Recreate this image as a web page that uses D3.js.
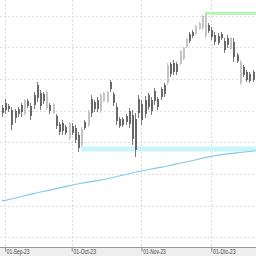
<!DOCTYPE html>
<html>
<head>
<meta charset="utf-8">
<script src="https://cdn.jsdelivr.net/npm/d3@7/dist/d3.min.js"></script>
<style>
body { margin: 0; background: #fff; }
svg { display: block; }
</style>
</head>
<body>
<script>
// daily candles, one per weekday from 31-Aug-23
var highs = [141.8, 143.6, 142.1, 141.2, 140.5, 141.2, 142.4, 143.7, 143.8, 142.4,
  145.9, 149.1, 146.5, 146.0, 146.5, 142.4, 142.3, 138.9, 136.5, 137.0,
  135.5, 136.5, 136.0, 135.5, 133.4, 134.9, 137.0, 140.2, 144.9, 143.4,
  144.3, 145.6, 145.9, 146.2, 149.7, 146.0, 142.4, 138.1, 138.0, 138.9,
  140.8, 140.2, 139.3, 144.9, 143.4, 144.6, 145.6, 144.4, 147.2, 144.4,
  147.5, 148.7, 155.1, 155.4, 156.0, 155.4, 159.2, 160.1, 163.0, 164.8,
  165.5, 167.1, 168.1, 170.2, 170.75, 167.7, 166.4, 164.8, 164.5, 164.8,
  163.0, 163.9, 163.3, 163.0, 158.2, 156.0, 154.4, 152.8, 152.2, 152.8, 151.3]
var lows = [138.1, 138.9, 139.7, 133.9, 136.0, 138.0, 138.1, 138.6, 141.0, 137.0,
  140.5, 142.6, 140.2, 142.1, 140.2, 138.9, 138.9, 134.2, 132.3, 132.3,
  132.3, 130.7, 132.3, 129.7, 126.9, 128.6, 133.9, 134.9, 138.1, 139.7,
  139.6, 139.3, 142.7, 142.4, 146.0, 141.5, 135.5, 134.5, 134.8, 135.5,
  134.5, 129.2, 125.3, 137.7, 135.5, 137.7, 140.2, 138.6, 141.8, 140.2,
  143.4, 144.3, 148.1, 150.6, 151.3, 151.3, 154.4, 156.0, 159.8, 161.4,
  163.0, 163.9, 165.5, 165.5, 163.0, 164.5, 162.3, 160.7, 160.7, 162.3,
  158.2, 159.8, 159.2, 155.4, 155.0, 148.1, 150.6, 149.0, 148.7, 149.0, 148.7]
var opens = [140.8, 142.5, 141.5, 140.3, 139.8, 140.6, 141.8, 139.0, 143.2, 141.5,
  145.0, 148.0, 145.5, 145.2, 140.8, 141.7, 139.2, 138.2, 135.8, 136.0,
  134.9, 131.3, 135.2, 134.5, 132.4, 129.2, 136.4, 135.4, 143.6, 142.6,
  143.4, 139.9, 143.0, 142.8, 149.0, 145.2, 141.2, 137.4, 137.3, 138.2,
  139.8, 138.6, 137.5, 143.8, 142.2, 143.5, 144.8, 143.5, 146.3, 143.7,
  146.8, 148.0, 148.7, 154.6, 155.2, 154.7, 154.8, 156.3, 160.1, 164.1,
  165.0, 164.2, 165.8, 166.0, 163.5, 167.0, 165.6, 164.0, 163.7, 164.2,
  162.1, 163.1, 159.6, 161.8, 157.6, 148.6, 153.7, 152.1, 151.5, 152.1, 150.8]
var closes = [139.2, 140.3, 140.4, 135.5, 137.6, 139.0, 139.6, 143.3, 141.6, 138.3,
  141.8, 144.0, 141.6, 143.0, 146.0, 139.8, 142.0, 135.3, 133.2, 133.5,
  133.0, 136.0, 133.1, 130.8, 128.3, 134.3, 134.6, 139.7, 139.4, 140.5,
  140.6, 145.0, 145.6, 145.8, 146.8, 142.5, 136.8, 135.3, 135.5, 136.3,
  135.8, 131.0, 127.5, 139.2, 137.0, 139.0, 141.3, 139.8, 142.9, 141.1,
  144.3, 145.2, 154.5, 151.6, 152.3, 152.2, 158.8, 159.8, 162.7, 162.1,
  163.6, 166.8, 167.8, 169.8, 170.3, 165.2, 163.2, 161.6, 161.5, 162.8,
  159.2, 160.6, 162.9, 156.8, 155.6, 155.5, 151.4, 149.8, 149.4, 149.7, 149.3]

// moving average, read every 5th bar
var maIdx = [0, 5, 10, 15, 20, 25, 30, 35, 40, 45, 50, 55, 60, 65, 70, 75, 80]
var maVals = [111.5, 112.6, 113.8, 114.9, 116.0, 117.05, 117.9, 118.9, 120.05,
  121.2, 122.1, 123.2, 124.2, 125.4, 126.2, 126.8, 127.35]

var tickLabels = ['01-Sep-23', '01-Oct-23', '01-Nov-23', '01-Dic-23']
var gridVals = [100, 110, 120, 130, 140, 150, 160, 170]

var resistance = 170.75, resistanceFrom = 64
var support = 127.9, supportFrom = 25

var W = 256, H = 256, plotH = 247

var days = d3.timeDay.range(new Date(2023, 7, 31), new Date(2023, 11, 22))
  .filter(function(d){ return d.getDay() % 6 != 0 })

var monthStarts = d3.range(1, days.length).filter(function(i){
  return days[i].getMonth() != days[i - 1].getMonth()
})

var x = d3.scaleLinear().domain([0, days.length - 1]).range([1.9, 255.7])
var y = d3.scaleLinear().domain([100, 170]).range([237.3, 15.7])

var svg = d3.select('body').append('svg').attr('width', W).attr('height', H)

function px(v){ return Math.round(v) + 0.5 }

// grid
svg.append('g').selectAll('line').data(gridVals).enter().append('line')
  .attr('x1', 0).attr('x2', W)
  .attr('y1', function(d){ return px(y(d)) }).attr('y2', function(d){ return px(y(d)) })
  .attr('stroke', '#dcdcdc').attr('stroke-dasharray', '2,2')

svg.append('g').selectAll('line').data(monthStarts).enter().append('line')
  .attr('x1', function(i){ return px(x(i)) }).attr('x2', function(i){ return px(x(i)) })
  .attr('y1', 0).attr('y2', plotH)
  .attr('stroke', '#dcdcdc').attr('stroke-dasharray', '2,2')

// levels
svg.append('line')
  .attr('x1', x(resistanceFrom)).attr('x2', W)
  .attr('y1', y(resistance)).attr('y2', y(resistance))
  .attr('stroke', '#b4f5b4').attr('stroke-width', 3)

svg.append('line')
  .attr('x1', x(supportFrom)).attr('x2', W)
  .attr('y1', y(support)).attr('y2', y(support))
  .attr('stroke', '#c8f6fb').attr('stroke-width', 5)

// moving average
var ma = maIdx.map(function(d, k){ return {i: d, v: maVals[k]} })
svg.append('path')
  .attr('d', d3.line().curve(d3.curveMonotoneX)
    .x(function(d){ return x(d.i) }).y(function(d){ return y(d.v) })(ma))
  .attr('fill', 'none').attr('stroke', '#80c9ea').attr('stroke-width', 1.1)

// candles
var bars = days.map(function(d, i){
  return {i: i, o: opens[i], h: highs[i], l: lows[i], c: closes[i]}
})
var up = function(d){ return d.c >= d.o }

var barSel = svg.append('g').attr('shape-rendering', 'crispEdges')
  .selectAll('g').data(bars).enter().append('g')

barSel.append('line')
  .attr('x1', function(d){ return px(x(d.i)) }).attr('x2', function(d){ return px(x(d.i)) })
  .attr('y1', function(d){ return y(d.h) }).attr('y2', function(d){ return y(d.l) })
  .attr('stroke', function(d){ return up(d) ? '#c4c4c4' : '#7a7a7a' })
barSel.append('rect')
  .attr('x', function(d){ return Math.round(x(d.i)) - (up(d) ? 0.5 : 0) })
  .attr('width', function(d){ return up(d) ? 2 : 1.5 })
  .attr('y', function(d){ return y(Math.max(d.o, d.c)) })
  .attr('height', function(d){ return Math.abs(y(d.o) - y(d.c)) })
  .attr('fill', function(d){ return up(d) ? '#c4c4c4' : '#686868' })

// date axis
svg.append('rect').attr('x', 0).attr('y', plotH).attr('width', W).attr('height', H - plotH)
  .attr('fill', '#eeeeee')

var axis = d3.axisBottom(x).tickValues(monthStarts).tickSize(4).tickSizeOuter(0)
  .tickFormat(function(d, k){ return tickLabels[k] })

var ax = svg.append('g').attr('transform', 'translate(0,' + (plotH + 0.5) + ')').call(axis)
ax.select('.domain').attr('stroke', '#9a9a9a').attr('d', 'M0,0H' + W)
ax.selectAll('.tick line').attr('stroke', '#8a8a8a')
ax.selectAll('.tick text')
  .attr('text-anchor', 'start').attr('x', 1.3).attr('y', 2).attr('dy', '0.71em')
  .attr('fill', '#444').style('font', '7px "Liberation Sans", Arial, sans-serif')
  .attr('textLength', 22.5).attr('lengthAdjust', 'spacingAndGlyphs')
</script>
</body>
</html>
